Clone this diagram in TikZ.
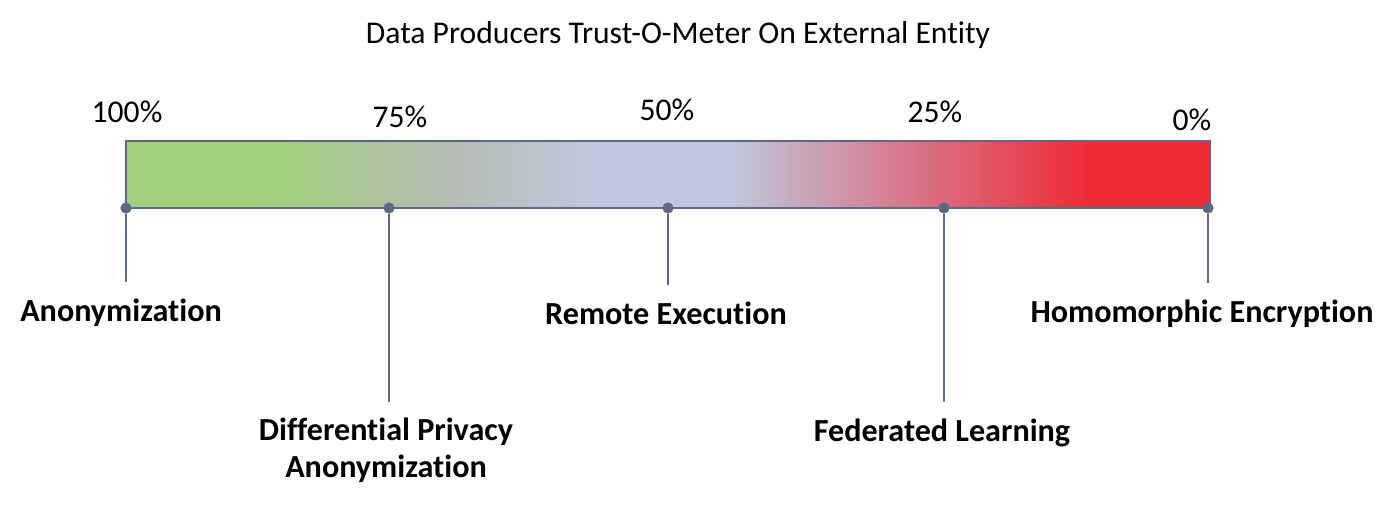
\documentclass[tikz,border=0pt]{standalone}
\usepackage{fontspec}
\setmainfont{Carlito}[Ligatures=NoCommon]
\usepackage{xcolor}
\usepackage{tikz}

\definecolor{meter}{RGB}{92,104,132}
\definecolor{tgreen}{RGB}{160,208,122}
\definecolor{tgray}{RGB}{180,188,178}
\definecolor{tlav}{RGB}{191,199,220}
\definecolor{tpink}{RGB}{217,114,134}
\definecolor{tred}{RGB}{239,42,52}

\pgfdeclarehorizontalshading{trust}{100bp}{color(0bp)=(tgreen); color(31.6bp)=(tgreen);
  color(39.9bp)=(tgray); color(46.4bp)=(tlav); color(52.9bp)=(tlav);
  color(61.4bp)=(tpink); color(69.5bp)=(tred); color(100bp)=(tred)}

\begin{document}
\begin{tikzpicture}[
		x=0.02cm, y=-0.02cm,
		tick/.style={circle, fill=meter, inner sep=0pt, minimum size=6.4pt},
		pct/.style={anchor=base, inner sep=0pt, font=\fontsize{18}{21}\selectfont},
		method/.style={anchor=base, align=center, inner sep=2pt, font=\fontsize{18.3}{20.6}\selectfont\bfseries},
		stem/.style={draw=meter, line width=1.2pt, shorten >=7pt}
		]
		\useasboundingbox (0,0) rectangle (1400,507);
		\node[pct] (title) at (678,43) {Data Producers Trust-O-Meter On External Entity};
		\node[shade, shading=trust, draw=meter, line width=0.7pt, inner sep=0pt,
			minimum width=21.68cm, minimum height=1.34cm] (bar) at (668,174.5) {};
		\node[pct] (p100) at (127,122) {100\%};
		\node[pct] (p75) at (400,127) {75\%};
		\node[pct] (p50) at (667,120) {50\%};
		\node[pct] (p25) at (935,122) {25\%};
		\node[pct] (p0) at (1192,130) {0\%};
		\foreach \n/\x in {d100/126, d75/389, d50/668, d25/944, d0/1208}
			\node[tick] (\n) at (\x,208) {};
		\node[method] (anon) at (121,321) {Anonymization};
		\node[method] (dp) at (386,477) {Differential Privacy\\Anonymization};
		\node[method] (remote) at (666,324) {Remote Execution};
		\node[method] (fed) at (942,441) {Federated Learning};
		\node[method] (homo) at (1202,322) {Homomorphic Encryption};
		\draw[stem] (d100) -- (d100 |- anon.north);
		\draw[stem] (d75) -- (d75 |- dp.north);
		\draw[stem] (d50) -- (d50 |- remote.north);
		\draw[stem] (d25) -- (d25 |- fed.north);
		\draw[stem] (d0) -- (d0 |- homo.north);
	\end{tikzpicture}
\end{document}
